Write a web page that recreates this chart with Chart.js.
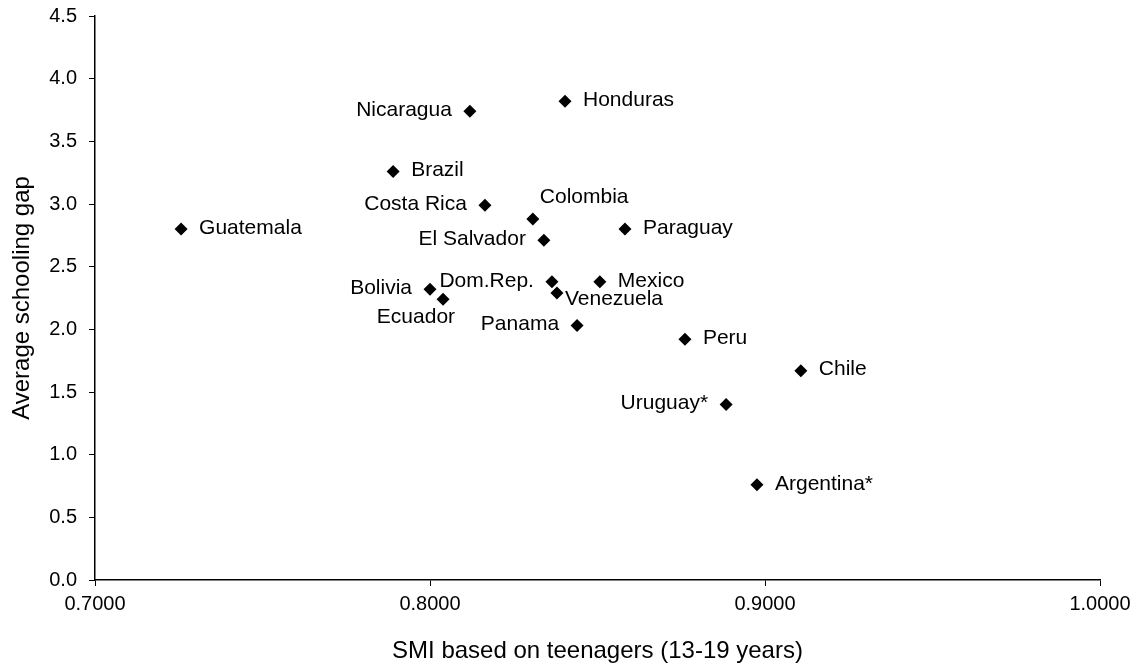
<!DOCTYPE html>
<html>
<head>
<meta charset="utf-8">
<script src="https://cdn.jsdelivr.net/npm/chart.js@4/dist/chart.umd.min.js"></script>
<style>
  html, body { margin: 0; padding: 0; background: #fff; }
  #wrap { width: 1135px; height: 668px; }
</style>
</head>
<body>
<div id="wrap"><canvas id="chart" width="1135" height="668"></canvas></div>
<script>
// countries and values
const countries = ["Guatemala", "Nicaragua", "Honduras", "Brazil", "Costa Rica", "Colombia",
  "El Salvador", "Paraguay", "Bolivia", "Ecuador", "Dom.Rep.", "Venezuela", "Mexico",
  "Panama", "Peru", "Chile", "Uruguay*", "Argentina*"];
const smi = [0.7257, 0.8119, 0.8403, 0.7890, 0.8164, 0.8307,
  0.8340, 0.8582, 0.8000, 0.8039, 0.8364, 0.8379, 0.8507,
  0.8439, 0.8761, 0.9107, 0.8884, 0.8976];
const gap = [2.80, 3.74, 3.82, 3.26, 2.99, 2.88,
  2.71, 2.80, 2.32, 2.24, 2.38, 2.29, 2.38,
  2.03, 1.92, 1.67, 1.40, 0.76];
const xTicks = [0.7, 0.8, 0.9, 1.0];
const yTicks = [0, 0.5, 1, 1.5, 2, 2.5, 3, 3.5, 4, 4.5];

const FONT = "'Liberation Sans', Arial, sans-serif";

// where each label goes relative to its marker
const leftSide = ["Nicaragua", "Costa Rica", "El Salvador", "Bolivia", "Dom.Rep.", "Panama", "Uruguay*"];
const special = {
  "Colombia": { dx: 7, dy: -22, align: "left" },
  "Ecuador": { dx: 12, dy: 18, align: "right" },
  "Venezuela": { dx: 8, dy: 6, align: "left" }
};

const pointLabels = {
  id: "pointLabels",
  afterDatasetsDraw(chart) {
    const ctx = chart.ctx;
    const meta = chart.getDatasetMeta(0);
    ctx.save();
    ctx.font = "21px " + FONT;
    ctx.fillStyle = "#000";
    ctx.textBaseline = "middle";
    meta.data.forEach((pt, i) => {
      const name = countries[i];
      let pos = special[name];
      if (!pos) {
        pos = leftSide.includes(name)
          ? { dx: -18, dy: -1, align: "right" }
          : { dx: 18, dy: -1, align: "left" };
      }
      ctx.textAlign = pos.align;
      ctx.fillText(name, pt.x + pos.dx, pt.y + pos.dy);
    });
    ctx.restore();
  }
};

new Chart(document.getElementById("chart"), {
  type: "scatter",
  data: {
    datasets: [{
      data: smi.map((v, i) => ({ x: v, y: gap[i] })),
      pointStyle: "rectRot",
      pointRadius: 6.5,
      pointHoverRadius: 6.5,
      backgroundColor: "#000",
      borderColor: "#000",
      borderWidth: 0
    }]
  },
  options: {
    responsive: false,
    animation: false,
    layout: { padding: { top: 16, right: 35, left: 0, bottom: 0 } },
    plugins: { legend: { display: false }, tooltip: { enabled: false } },
    scales: {
      x: {
        type: "linear",
        min: 0.7,
        max: 1.0,
        afterFit: s => { s.height = 88; s.paddingLeft = 0; s.paddingRight = 0; },
        afterBuildTicks: s => { s.ticks = xTicks.map(v => ({ value: v })); },
        ticks: {
          color: "#000",
          font: { family: FONT, size: 20 },
          padding: 6,
          maxRotation: 0,
          callback: v => Number(v).toFixed(4)
        },
        grid: { drawOnChartArea: false, drawTicks: true, tickLength: 6, color: "#000" },
        border: { color: "#000", width: 1.5 },
        title: {
          display: true,
          text: "SMI based on teenagers (13-19 years)",
          color: "#000",
          font: { family: FONT, size: 24 },
          padding: { top: 0, bottom: 2 }
        }
      },
      y: {
        type: "linear",
        min: 0,
        max: 4.5,
        afterFit: s => { s.width = 95; s.paddingTop = 0; s.paddingBottom = 0; },
        afterBuildTicks: s => { s.ticks = yTicks.map(v => ({ value: v })); },
        ticks: {
          color: "#000",
          font: { family: FONT, size: 20 },
          padding: 12,
          callback: v => Number(v).toFixed(1)
        },
        grid: { drawOnChartArea: false, drawTicks: true, tickLength: 6, color: "#000" },
        border: { color: "#000", width: 1.5 },
        title: {
          display: true,
          text: "Average schooling gap",
          color: "#000",
          font: { family: FONT, size: 24 },
          padding: { top: 8, bottom: 0 }
        }
      }
    }
  },
  plugins: [pointLabels]
});
</script>
</body>
</html>
